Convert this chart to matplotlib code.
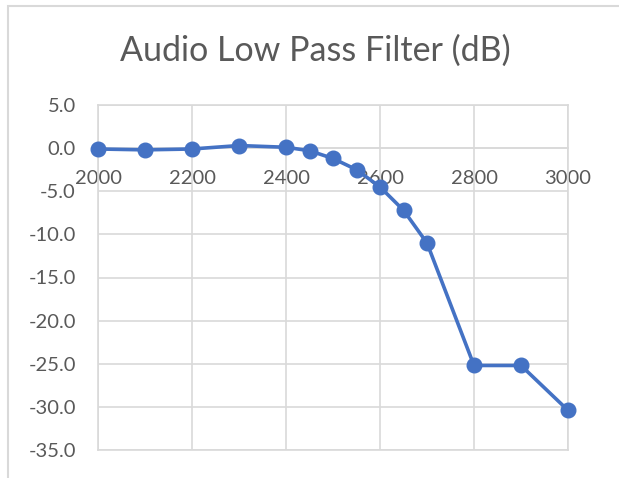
import matplotlib.pyplot as plt
from matplotlib.patches import Rectangle

freq = [2000, 2100, 2200, 2300, 2400, 2450, 2500, 2550, 2600, 2650, 2700, 2800, 2900, 3000]
gain_db = [-0.1, -0.2, -0.1, 0.3, 0.1, -0.3, -1.2, -2.5, -4.5, -7.2, -11.0, -25.2, -25.2, -30.4]
x_ticks = [2000, 2200, 2400, 2600, 2800, 3000]
y_ticks = [5, 0, -5, -10, -15, -20, -25, -30, -35]

plt.rcParams['font.family'] = ['Lato', 'DejaVu Sans']
grid_c = '#D9D9D9'
text_c = '#595959'

fig = plt.figure(figsize=(6.19, 4.78), dpi=100)
ax = fig.add_axes([98/619, 1-450/478, 470/619, 345/478])

# chart border (cropped on right and bottom)
fig.patches.append(Rectangle((8/619, -0.1), 1.2, 1-6/478+0.1, transform=fig.transFigure,
                             fill=False, edgecolor=grid_c, linewidth=1.5))

ax.plot(freq, gain_db, color='#4472C4', linewidth=2.6, marker='o', markersize=10.5,
        zorder=3, clip_on=False)

ax.set_xlim(2000, 3000)
ax.set_ylim(-35, 5)
ax.set_xticks(x_ticks)
ax.set_yticks(y_ticks)
ax.set_yticklabels([f'{v:.1f}' for v in y_ticks])
ax.grid(True, color=grid_c, linewidth=1.2)
ax.set_axisbelow(True)

for s in ax.spines.values():
    s.set_color(grid_c)
    s.set_linewidth(1.2)
ax.spines['bottom'].set_position(('data', 0))
ax.axhline(-35, color=grid_c, linewidth=1.2, clip_on=False)

ax.tick_params(axis='both', length=0, labelsize=14.5, labelcolor=text_c)
ax.tick_params(axis='x', pad=16)
ax.tick_params(axis='y', pad=16)

fig.text(315/619, 1-51/478, 'Audio Low Pass Filter (dB)', ha='center', va='center',
         fontsize=24.5, color=text_c)

fig.savefig('out.png', dpi=100)
